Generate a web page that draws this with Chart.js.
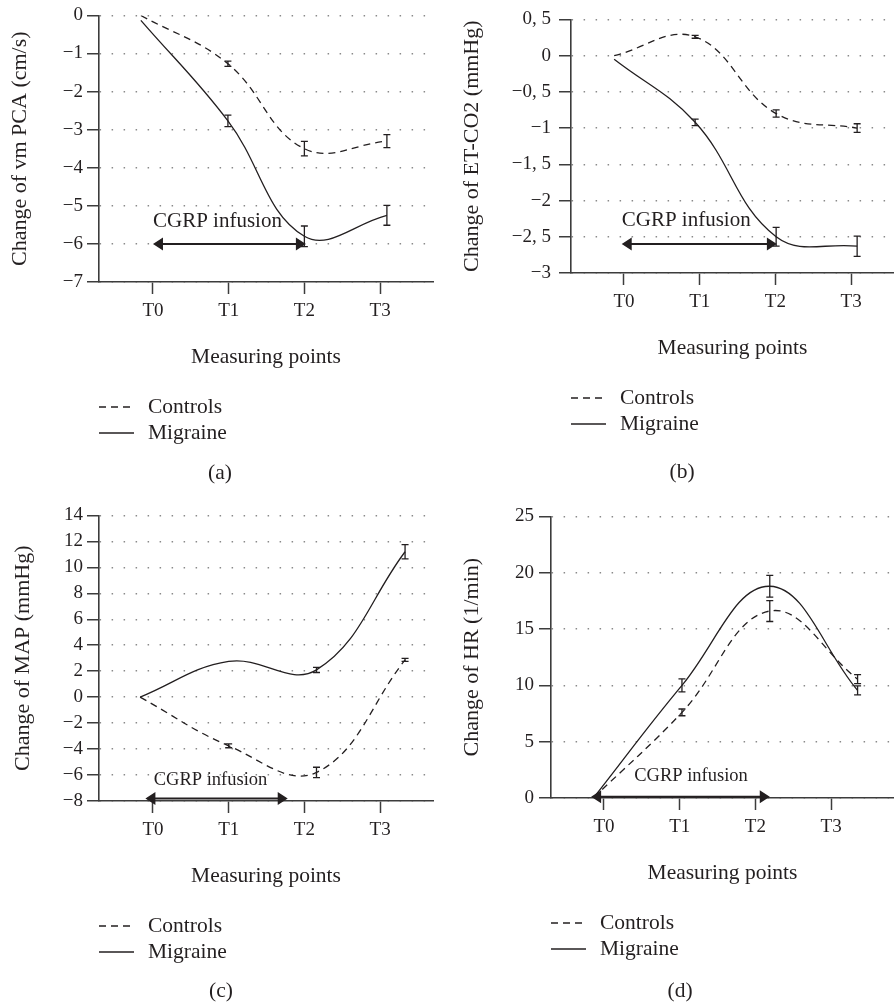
<!DOCTYPE html>
<html>
<head>
<meta charset="utf-8">
<script src="https://cdn.jsdelivr.net/npm/chart.js@4.4.1/dist/chart.umd.min.js"></script>
<style>
  body { margin: 0; background: #fff; }
  #wrap { position: relative; width: 894px; height: 1004px; }
  canvas { position: absolute; }
</style>
</head>
<body>
<div id="wrap">
  <canvas id="pa" width="447" height="500" style="left:0;top:0"></canvas>
  <canvas id="pb" width="447" height="500" style="left:447px;top:0"></canvas>
  <canvas id="pc" width="447" height="504" style="left:0;top:500px"></canvas>
  <canvas id="pd" width="447" height="504" style="left:447px;top:500px"></canvas>
</div>
<script>
const tickLabels = ['T0', 'T1', 'T2', 'T3'];
const seriesNames = ['Controls', 'Migraine'];

// (a) vm PCA, cm/s
const pcaX = [-0.16, 0.99, 2.0, 3.09];
const pcaControls = [0, -1.27, -3.5, -3.3];
const pcaControlsErr = [0, 0.07, 0.19, 0.17];
const pcaMigraine = [-0.13, -2.77, -5.8, -5.25];
const pcaMigraineErr = [0, 0.15, 0.27, 0.26];

// (b) ET-CO2, mmHg
const co2X = [-0.13, 0.94, 2.01, 3.08];
const co2Controls = [0, 0.26, -0.8, -1.0];
const co2ControlsErr = [0, 0.02, 0.05, 0.06];
const co2Migraine = [-0.05, -0.92, -2.5, -2.63];
const co2MigraineErr = [0, 0.045, 0.13, 0.14];

// (c) MAP, mmHg
const mapX = [-0.17, 1.0, 2.16, 3.33];
const mapControls = [0, -3.75, -5.8, 2.87];
const mapControlsErr = [0, 0.15, 0.4, 0.12];
const mapMigraine = [0, 2.75, 2.1, 11.2];
const mapMigraineErr = [0, 0, 0.2, 0.55];

// (d) HR, 1/min
const hrX = [-0.14, 1.03, 2.19, 3.35];
const hrControls = [0, 7.6, 16.6, 10.55];
const hrControlsErr = [0, 0.3, 0.93, 0.4];
const hrMigraine = [0, 10.0, 18.8, 9.55];
const hrMigraineErr = [0, 0.58, 0.96, 0.4];

const ink = '#231f20';
const axisColor = '#3c3c3c';
const serif = "'Liberation Serif', 'Times New Roman', serif";

function fmt(v, comma) {
  let s = String(Math.round(v * 10) / 10);
  if (comma) s = s.replace('.', ', ');
  return s.replace('-', '\u2212');
}

// error bars, infusion arrow, legend and panel tag
const extras = {
  id: 'extras',
  afterDatasetsDraw(chart, args, o) {
    const ctx = chart.ctx, xs = chart.scales.x, ys = chart.scales.y;
    ctx.save();
    ctx.strokeStyle = ink;
    ctx.fillStyle = ink;
    ctx.lineWidth = 1.3;
    chart.data.datasets.forEach((ds, k) => {
      ds.data.forEach((p, i) => {
        const e = o.errors[k][i];
        if (!e) return;
        const px = xs.getPixelForValue(p.x);
        const y1 = ys.getPixelForValue(p.y + e), y2 = ys.getPixelForValue(p.y - e);
        ctx.beginPath();
        ctx.moveTo(px, y1); ctx.lineTo(px, y2);
        ctx.moveTo(px - 3.5, y1); ctx.lineTo(px + 3.5, y1);
        ctx.moveTo(px - 3.5, y2); ctx.lineTo(px + 3.5, y2);
        ctx.stroke();
      });
    });

    const inf = o.infusion;
    const ax1 = xs.getPixelForValue(inf.from), ax2 = xs.getPixelForValue(inf.to);
    const ay = ys.getPixelForValue(inf.at);
    ctx.lineWidth = 2;
    ctx.beginPath();
    ctx.moveTo(ax1 + 9, ay); ctx.lineTo(ax2 - 9, ay);
    ctx.stroke();
    ctx.beginPath();
    ctx.moveTo(ax1, ay); ctx.lineTo(ax1 + 10, ay - 6.5); ctx.lineTo(ax1 + 10, ay + 6.5); ctx.closePath();
    ctx.moveTo(ax2, ay); ctx.lineTo(ax2 - 10, ay - 6.5); ctx.lineTo(ax2 - 10, ay + 6.5); ctx.closePath();
    ctx.fill();
    ctx.font = inf.size + 'px ' + serif;
    ctx.textAlign = 'left';
    ctx.textBaseline = 'middle';
    ctx.fillText('CGRP infusion', xs.getPixelForValue(inf.textX), ys.getPixelForValue(inf.textY));
    ctx.restore();
  },
  afterDraw(chart, args, o) {
    const ctx = chart.ctx, area = chart.chartArea;
    ctx.save();
    ctx.strokeStyle = ink;
    ctx.fillStyle = ink;
    ctx.lineWidth = 1.3;
    ctx.font = '21.5px ' + serif;
    ctx.textBaseline = 'middle';
    ctx.textAlign = 'left';
    chart.data.datasets.forEach((ds, k) => {
      const y = area.bottom + 125 + k * 26;
      ctx.setLineDash(ds.borderDash || []);
      ctx.beginPath();
      ctx.moveTo(area.left, y); ctx.lineTo(area.left + 35, y);
      ctx.stroke();
      ctx.setLineDash([]);
      ctx.fillText(ds.label, area.left + 49, y);
    });
    ctx.textAlign = 'center';
    ctx.fillText(o.tag, o.tagX, o.tagY);
    ctx.restore();
  }
};

function panel(id, p) {
  const pts = (ys) => p.x.map((x, i) => ({ x: x, y: ys[i] }));
  return new Chart(document.getElementById(id), {
    type: 'line',
    data: {
      datasets: [
        { label: seriesNames[0], data: pts(p.ctrl), borderColor: ink, borderWidth: 1.3,
          borderDash: [7, 5], pointRadius: 0, tension: 0.4, fill: false },
        { label: seriesNames[1], data: pts(p.mig), borderColor: ink, borderWidth: 1.3,
          pointRadius: 0, tension: 0.4, fill: false }
      ]
    },
    options: {
      responsive: false,
      devicePixelRatio: 1,
      animation: false,
      events: [],
      layout: { padding: p.pad },
      plugins: {
        legend: { display: false },
        tooltip: { enabled: false },
        extras: { errors: [p.ctrlErr, p.migErr], infusion: p.infusion, tag: p.tag, tagX: p.tagX, tagY: p.tagY }
      },
      scales: {
        x: {
          type: 'linear',
          min: p.xMin, max: p.xMax,
          afterBuildTicks: (s) => { s.ticks = tickLabels.map((t, i) => ({ value: i })); },
          afterFit: (s) => { s.height = 88; },
          grid: { drawOnChartArea: false, drawTicks: true, tickLength: 12, tickColor: axisColor, tickWidth: 1.5 },
          border: { color: axisColor, width: 1.6 },
          ticks: { autoSkip: false, maxRotation: 0, padding: 6, color: ink,
                   font: { family: serif, size: 19 }, callback: (v) => tickLabels[v] },
          title: { display: true, text: 'Measuring points', color: ink,
                   font: { family: serif, size: 21.5 }, padding: 0 }
        },
        y: {
          min: p.yMin, max: p.yMax,
          afterFit: (s) => { s.width = p.yWidth; },
          grid: { color: '#8a8a8a', lineWidth: 1.5, tickLength: 12, tickColor: axisColor, tickWidth: 1.5, tickBorderDash: [] },
          border: { color: axisColor, width: 1.6, dash: [1.5, 10.5] },
          ticks: { stepSize: p.step, padding: p.tickPad, color: ink,
                   font: { family: serif, size: 19 }, callback: (v) => fmt(v, p.comma) },
          title: { display: true, text: p.yTitle, color: ink,
                   font: { family: serif, size: 22 }, padding: { top: p.titlePad, bottom: 0 } }
        }
      }
    },
    plugins: [extras]
  });
}

panel('pa', {
  x: pcaX, ctrl: pcaControls, mig: pcaMigraine, ctrlErr: pcaControlsErr, migErr: pcaMigraineErr,
  xMin: -0.713, xMax: 3.699, yMin: -7, yMax: 0, step: 1, comma: false,
  yTitle: 'Change of vm PCA (cm/s)', yWidth: 99, titlePad: 7, tickPad: 4,
  pad: { left: 0, top: 15, right: 14, bottom: 130 },
  infusion: { from: 0, to: 2.02, at: -6, textX: 0, textY: -5.41, size: 21 },
  tag: '(a)', tagX: 220, tagY: 473
});

panel('pb', {
  x: co2X, ctrl: co2Controls, mig: co2Migraine, ctrlErr: co2ControlsErr, migErr: co2MigraineErr,
  xMin: -0.70, xMax: 3.567, yMin: -3, yMax: 0.5, step: 0.5, comma: true,
  yTitle: 'Change of ET-CO2 (mmHg)', yWidth: 124, titlePad: 12, tickPad: 8,
  pad: { left: 0, top: 16, right: 0, bottom: 139 },
  infusion: { from: -0.03, to: 2.02, at: -2.6, textX: -0.03, textY: -2.28, size: 21 },
  tag: '(b)', tagX: 235, tagY: 472
});

panel('pc', {
  x: mapX, ctrl: mapControls, mig: mapMigraine, ctrlErr: mapControlsErr, migErr: mapMigraineErr,
  xMin: -0.713, xMax: 3.699, yMin: -8, yMax: 14, step: 2, comma: false,
  yTitle: 'Change of MAP (mmHg)', yWidth: 99, titlePad: 10, tickPad: 4,
  pad: { left: 0, top: 11, right: 14, bottom: 115 },
  infusion: { from: -0.1, to: 1.78, at: -7.8, textX: 0.01, textY: -6.4, size: 18.5 },
  tag: '(c)', tagX: 221, tagY: 491
});

panel('pd', {
  x: hrX, ctrl: hrControls, mig: hrMigraine, ctrlErr: hrControlsErr, migErr: hrMigraineErr,
  xMin: -0.70, xMax: 3.831, yMin: 0, yMax: 25, step: 5, comma: false,
  yTitle: 'Change of HR (1/min)', yWidth: 104, titlePad: 12, tickPad: 5,
  pad: { left: 0, top: 11, right: 0, bottom: 118 },
  infusion: { from: -0.17, to: 2.19, at: 0.1, textX: 0.4, textY: 1.9, size: 18.5 },
  tag: '(d)', tagX: 233, tagY: 491
});
</script>
</body>
</html>
